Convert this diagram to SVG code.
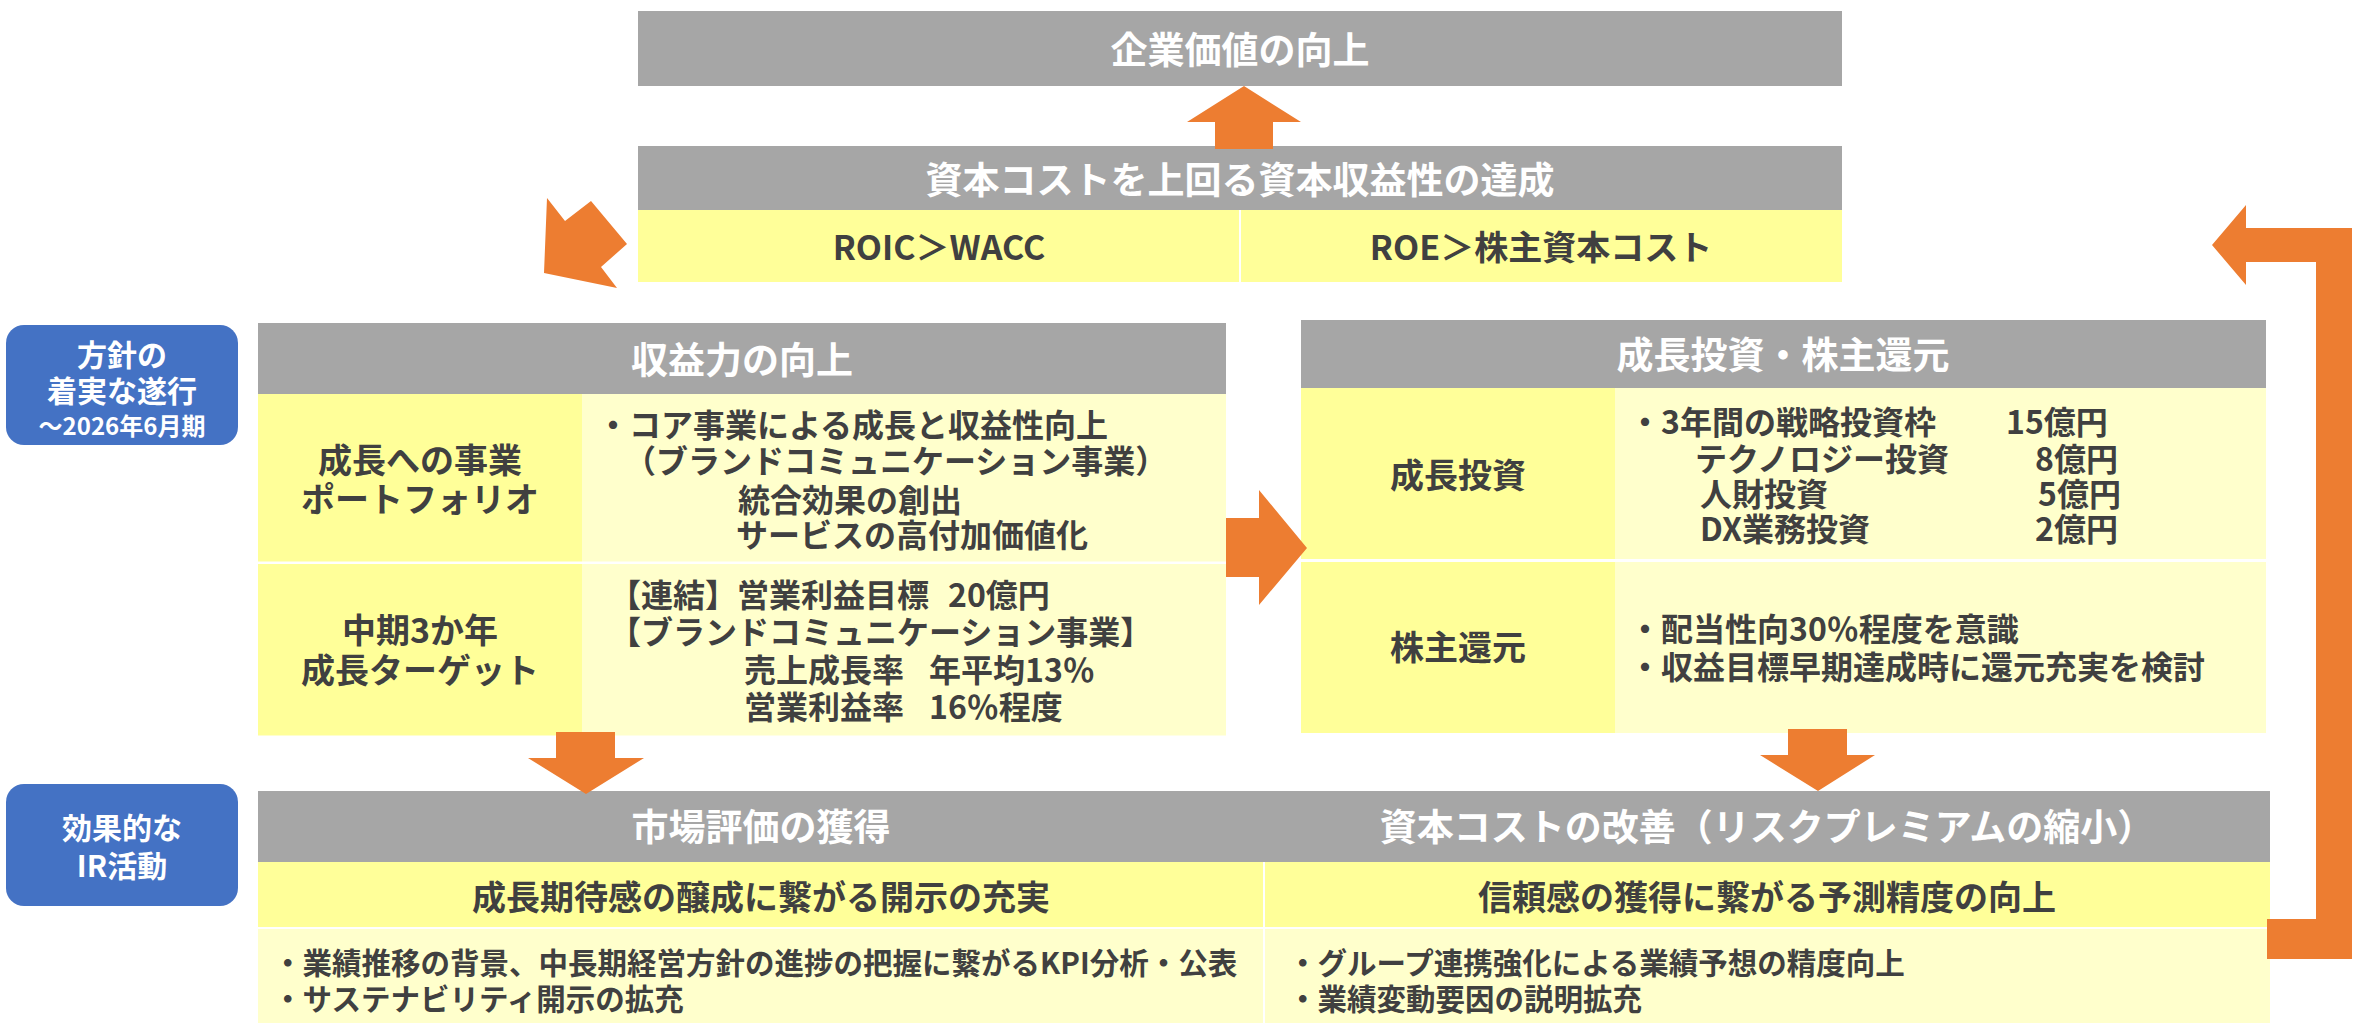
<svg xmlns="http://www.w3.org/2000/svg" width="2356" height="1024" viewBox="0 0 2356 1024">
<style>
.hdr{fill:#A6A6A6}
.y1{fill:#FFFF99}
.y2{fill:#FFFFCC}
.blue{fill:#4472C4}
.arr{fill:#ED7D31}
text{font-family:"Noto Sans CJK JP","Noto Sans",sans-serif;font-weight:700;dominant-baseline:central}
.w{fill:#FFFFFF}
.d{fill:#404040}
.c{text-anchor:middle}
.h{font-size:37px}
.m{font-size:34px}
.b{font-size:32px}
.s{font-size:29.5px}
.bl{font-size:30px}
.sm{font-size:24px}
</style>
<rect width="2356" height="1024" fill="#FFFFFF"/>

<g id="node-kigyo-kachi">
  <rect class="hdr" x="638" y="11" width="1204" height="75"/>
  <text class="w c h" x="1240" y="48">企業価値の向上</text>
</g>

<g id="node-shihon-shueki">
  <rect class="hdr" x="638" y="146" width="1204" height="64"/>
  <text class="w c h" x="1240" y="178">資本コストを上回る資本収益性の達成</text>
  <rect class="y1" x="638" y="210" width="601" height="72"/>
  <rect class="y1" x="1241" y="210" width="601" height="72"/>
  <text class="d c m" x="939" y="245">ROIC＞WACC</text>
  <text class="d c m" x="1541" y="245">ROE＞株主資本コスト</text>
</g>

<g id="label-hoshin">
  <rect class="blue" x="6" y="325" width="232" height="120" rx="18" ry="18"/>
  <text class="w c bl"><tspan x="122" y="353">方針の</tspan><tspan x="122" y="389">着実な遂行</tspan><tspan class="sm" x="122" y="424">～2026年6月期</tspan></text>
</g>

<g id="label-ir">
  <rect class="blue" x="6" y="784" width="232" height="122" rx="18" ry="18"/>
  <text class="w c bl"><tspan x="122" y="826">効果的な</tspan><tspan x="122" y="864">IR活動</tspan></text>
</g>

<g id="node-shuekiryoku">
  <rect class="hdr" x="258" y="323" width="968" height="71"/>
  <text class="w c h" x="742" y="358">収益力の向上</text>
  <rect class="y1" x="258" y="394" width="324" height="167.5"/>
  <rect class="y2" x="582" y="394" width="644" height="167.5"/>
  <rect class="y1" x="258" y="564" width="324" height="171.5"/>
  <rect class="y2" x="582" y="564" width="644" height="171.5"/>
  <text class="d c m"><tspan x="420" y="458">成長への事業</tspan><tspan x="420" y="497">ポートフォリオ</tspan></text>
  <text class="d b"><tspan x="597" y="423">・コア事業による成長と収益性向上</tspan><tspan x="624" y="459">（ブランドコミュニケーション事業）</tspan><tspan x="738" y="498">統合効果の創出</tspan><tspan x="736" y="533">サービスの高付加価値化</tspan></text>
  <text class="d c m"><tspan x="420" y="628">中期3か年</tspan><tspan x="420" y="668">成長ターゲット</tspan></text>
  <text class="d b"><tspan x="609" y="593">【連結】営業利益目標</tspan><tspan x="948" y="593">20億円</tspan><tspan x="609" y="630">【ブランドコミュニケーション事業】</tspan><tspan x="744" y="668">売上成長率</tspan><tspan x="929" y="668">年平均13％</tspan><tspan x="744" y="705">営業利益率</tspan><tspan x="929" y="705">16％程度</tspan></text>
</g>

<g id="node-seicho-toshi">
  <rect class="hdr" x="1301" y="320" width="965" height="68"/>
  <text class="w c h" x="1783" y="353">成長投資・株主還元</text>
  <rect class="y1" x="1301" y="388" width="314" height="171"/>
  <rect class="y2" x="1615" y="388" width="651" height="171"/>
  <rect class="y1" x="1301" y="562" width="314" height="171"/>
  <rect class="y2" x="1615" y="562" width="651" height="171"/>
  <text class="d c m" x="1458" y="473">成長投資</text>
  <text class="d b"><tspan x="1629" y="420">・3年間の戦略投資枠</tspan><tspan x="2006" y="420">15億円</tspan><tspan x="1695" y="457">テクノロジー投資</tspan><tspan x="2035" y="457">8億円</tspan><tspan x="1700" y="492">人財投資</tspan><tspan x="2038" y="492">5億円</tspan><tspan x="1700" y="527">DX業務投資</tspan><tspan x="2035" y="527">2億円</tspan></text>
  <text class="d c m" x="1458" y="645">株主還元</text>
  <text class="d b"><tspan x="1629" y="627">・配当性向30％程度を意識</tspan><tspan x="1629" y="665">・収益目標早期達成時に還元充実を検討</tspan></text>
</g>

<g id="node-ir">
  <rect class="hdr" x="258" y="791" width="2012" height="71"/>
  <text class="w c h" x="761" y="825">市場評価の獲得</text>
  <text class="w c h" x="1767" y="825">資本コストの改善（リスクプレミアムの縮小）</text>
  <rect class="y1" x="258" y="862" width="1005" height="65"/>
  <rect class="y1" x="1265" y="862" width="1005" height="65"/>
  <rect class="y2" x="258" y="929" width="1005" height="94"/>
  <rect class="y2" x="1265" y="929" width="1005" height="94"/>
  <text class="d c m" x="761" y="895">成長期待感の醸成に繋がる開示の充実</text>
  <text class="d c m" x="1767" y="895">信頼感の獲得に繋がる予測精度の向上</text>
  <text class="d s"><tspan x="273" y="961">・業績推移の背景、中長期経営方針の進捗の把握に繋がるKPI分析・公表</tspan><tspan x="273" y="997">・サステナビリティ開示の拡充</tspan></text>
  <text class="d s"><tspan x="1288" y="961">・グループ連携強化による業績予想の精度向上</tspan><tspan x="1288" y="997">・業績変動要因の説明拡充</tspan></text>
</g>

<g id="connectors">
  <polygon class="arr" points="1215,149 1215,122 1187,122 1244,86 1301,122 1273,122 1273,149"/>
  <polygon class="arr" points="547,198 565,221 591,201 627,244 601,267 617,288 544,273"/>
  <polygon class="arr" points="1226,518 1259,518 1259,490 1307,548 1259,605 1259,577 1226,577"/>
  <polygon class="arr" points="556,732 615,732 615,758 644,758 586,794 528,758 556,758"/>
  <polygon class="arr" points="1788,729 1847,729 1847,755 1875,755 1818,791 1760,755 1788,755"/>
  <polygon class="arr" points="2212,245 2246,205 2246,228 2352,228 2352,959 2267,959 2267,919 2316,919 2316,262 2246,262 2246,285"/>
</g>
</svg>
